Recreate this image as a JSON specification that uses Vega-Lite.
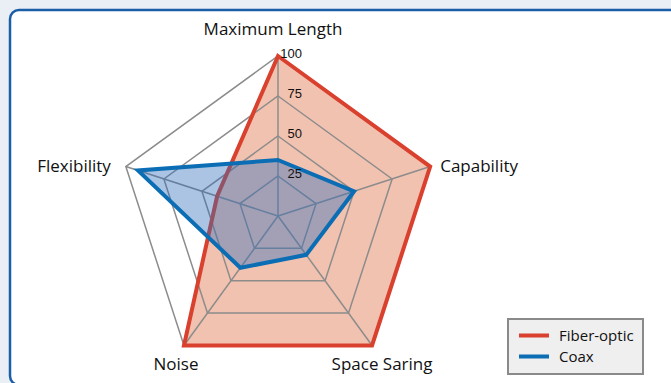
{
  "$schema": "https://vega.github.io/schema/vega-lite/v6.json",
  "width": 675,
  "height": 375,
  "autosize": {"type": "none"},
  "padding": {"left": 10, "top": 10, "right": 0, "bottom": 0},
  "background": "#eaeff5",
  "config": {"view": {"fill": "#ffffff", "stroke": "#1a5ea8", "strokeWidth": 2.5, "cornerRadius": 9}},
  "data": {"values": [
    {"group": "Fiber-optic", "axis": "Maximum Length", "value": 100},
    {"group": "Fiber-optic", "axis": "Capability", "value": 100},
    {"group": "Fiber-optic", "axis": "Space Saring", "value": 100},
    {"group": "Fiber-optic", "axis": "Noise", "value": 100},
    {"group": "Fiber-optic", "axis": "Flexibility", "value": 40},
    {"group": "Coax", "axis": "Maximum Length", "value": 35},
    {"group": "Coax", "axis": "Capability", "value": 50},
    {"group": "Coax", "axis": "Space Saring", "value": 30},
    {"group": "Coax", "axis": "Noise", "value": 40},
    {"group": "Coax", "axis": "Flexibility", "value": 92},
    {"group": "grid", "axis": "Maximum Length", "value": 25},
    {"group": "grid", "axis": "Capability", "value": 25},
    {"group": "grid", "axis": "Space Saring", "value": 25},
    {"group": "grid", "axis": "Noise", "value": 25},
    {"group": "grid", "axis": "Flexibility", "value": 25},
    {"group": "grid", "axis": "Maximum Length", "value": 50},
    {"group": "grid", "axis": "Capability", "value": 50},
    {"group": "grid", "axis": "Space Saring", "value": 50},
    {"group": "grid", "axis": "Noise", "value": 50},
    {"group": "grid", "axis": "Flexibility", "value": 50},
    {"group": "grid", "axis": "Maximum Length", "value": 75},
    {"group": "grid", "axis": "Capability", "value": 75},
    {"group": "grid", "axis": "Space Saring", "value": 75},
    {"group": "grid", "axis": "Noise", "value": 75},
    {"group": "grid", "axis": "Flexibility", "value": 75},
    {"group": "grid", "axis": "Maximum Length", "value": 100},
    {"group": "grid", "axis": "Capability", "value": 100},
    {"group": "grid", "axis": "Space Saring", "value": 100},
    {"group": "grid", "axis": "Noise", "value": 100},
    {"group": "grid", "axis": "Flexibility", "value": 100},
    {"group": "axis", "axis": "Maximum Length", "value": 100},
    {"group": "axis", "axis": "Capability", "value": 100},
    {"group": "axis", "axis": "Space Saring", "value": 100},
    {"group": "axis", "axis": "Noise", "value": 100},
    {"group": "axis", "axis": "Flexibility", "value": 100}
  ]},
  "transform": [
    {"calculate": "indexof(['Maximum Length','Capability','Space Saring','Noise','Flexibility'], datum.axis)", "as": "idx"},
    {"calculate": "datum.value*sin(datum.idx*2*PI/5)", "as": "px"},
    {"calculate": "datum.value*cos(datum.idx*2*PI/5)", "as": "py"}
  ],
  "encoding": {
    "x": {"field": "px", "type": "quantitative", "scale": {"domain": [-167.5, 254.375], "nice": false, "zero": false}, "axis": null},
    "y": {"field": "py", "type": "quantitative", "scale": {"domain": [-105.625, 128.75], "nice": false, "zero": false}, "axis": null}
  },
  "layer": [
    {
      "transform": [{"filter": "datum.group == 'Fiber-optic'"}],
      "mark": {"type": "line", "interpolate": "linear-closed", "fill": "#e58662", "fillOpacity": 0.5, "strokeWidth": 0, "strokeOpacity": 0},
      "encoding": {"order": {"field": "idx", "type": "quantitative"}}
    },
    {
      "transform": [{"filter": "datum.group == 'grid'"}],
      "mark": {"type": "line", "interpolate": "linear-closed", "stroke": "#8c8c8c", "strokeWidth": 1.5},
      "encoding": {"order": {"field": "idx", "type": "quantitative"}, "detail": {"field": "value", "type": "nominal"}}
    },
    {
      "transform": [{"filter": "datum.group == 'axis'"}],
      "mark": {"type": "rule", "stroke": "#8c8c8c", "strokeWidth": 1.5},
      "encoding": {
        "x": {"datum": 0, "type": "quantitative", "scale": {"domain": [-167.5, 254.375], "nice": false, "zero": false}, "axis": null},
        "y": {"datum": 0, "type": "quantitative", "scale": {"domain": [-105.625, 128.75], "nice": false, "zero": false}, "axis": null},
        "x2": {"field": "px"},
        "y2": {"field": "py"}
      }
    },
    {
      "transform": [{"filter": "datum.group == 'Fiber-optic'"}],
      "mark": {"type": "line", "interpolate": "linear-closed", "strokeWidth": 4, "strokeJoin": "miter"},
      "encoding": {
        "order": {"field": "idx", "type": "quantitative"},
        "stroke": {"field": "group", "type": "nominal",
          "scale": {"domain": ["Fiber-optic", "Coax"], "range": ["#d9412e", "#0b6db4"]},
          "legend": {"orient": "none", "legendX": 498, "legendY": 309, "title": null,
            "symbolType": "stroke", "symbolStrokeWidth": 4, "symbolSize": 900, "clipHeight": 15,
            "fillColor": "#efefef", "strokeColor": "#8a8a8a", "padding": 9, "rowPadding": 5,
            "labelFont": "Open Sans", "labelFontSize": 15, "labelColor": "#111111", "labelOffset": 8,
            "encode": {"legend": {"update": {"strokeWidth": {"value": 2}}}}}
        }
      }
    },
    {
      "transform": [{"filter": "datum.group == 'Coax'"}],
      "mark": {"type": "line", "interpolate": "linear-closed", "fill": "#2c6cbc", "fillOpacity": 0.4, "strokeWidth": 0, "strokeOpacity": 0},
      "encoding": {"order": {"field": "idx", "type": "quantitative"}}
    },
    {
      "transform": [{"filter": "datum.group == 'Coax'"}],
      "mark": {"type": "line", "interpolate": "linear-closed", "strokeWidth": 4, "strokeJoin": "miter"},
      "encoding": {
        "order": {"field": "idx", "type": "quantitative"},
        "stroke": {"field": "group", "type": "nominal"}
      }
    },
    {
      "transform": [{"filter": "datum.group == 'grid' && datum.idx == 0"}],
      "mark": {"type": "text", "align": "right", "baseline": "middle", "dx": 24, "dy": -2, "font": "Liberation Sans", "fontSize": 13, "color": "#111111"},
      "encoding": {"text": {"field": "value", "type": "quantitative"}}
    },
    {
      "transform": [{"filter": "datum.group == 'axis' && datum.idx == 0"}],
      "mark": {"type": "text", "align": "center", "baseline": "alphabetic", "dx": -5, "dy": -21, "font": "Open Sans", "fontSize": 17, "color": "#111111"},
      "encoding": {"text": {"field": "axis", "type": "nominal"}}
    },
    {
      "transform": [{"filter": "datum.group == 'axis' && datum.idx == 1"}],
      "mark": {"type": "text", "align": "left", "baseline": "alphabetic", "dx": 10, "dy": 5, "font": "Open Sans", "fontSize": 17, "color": "#111111"},
      "encoding": {"text": {"field": "axis", "type": "nominal"}}
    },
    {
      "transform": [{"filter": "datum.group == 'axis' && datum.idx == 2"}],
      "mark": {"type": "text", "align": "center", "baseline": "alphabetic", "dx": 10, "dy": 25, "font": "Open Sans", "fontSize": 17, "color": "#111111"},
      "encoding": {"text": {"field": "axis", "type": "nominal"}}
    },
    {
      "transform": [{"filter": "datum.group == 'axis' && datum.idx == 3"}],
      "mark": {"type": "text", "align": "center", "baseline": "alphabetic", "dx": -8, "dy": 25, "font": "Open Sans", "fontSize": 17, "color": "#111111"},
      "encoding": {"text": {"field": "axis", "type": "nominal"}}
    },
    {
      "transform": [{"filter": "datum.group == 'axis' && datum.idx == 4"}],
      "mark": {"type": "text", "align": "right", "baseline": "alphabetic", "dx": -15, "dy": 5, "font": "Open Sans", "fontSize": 17, "color": "#111111"},
      "encoding": {"text": {"field": "axis", "type": "nominal"}}
    }
  ]
}
